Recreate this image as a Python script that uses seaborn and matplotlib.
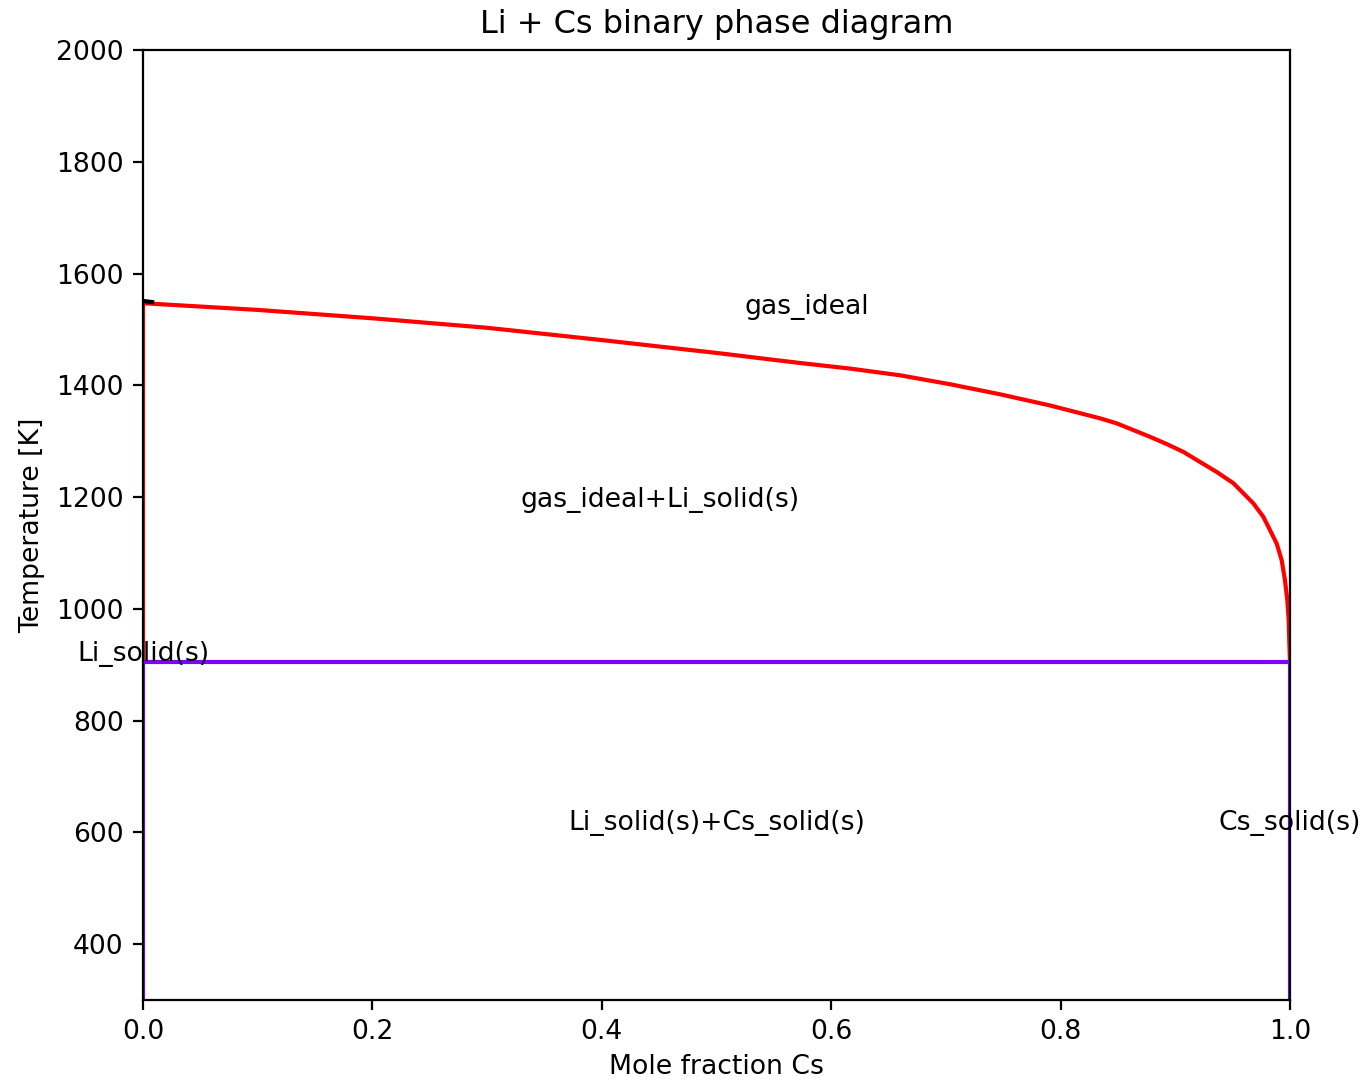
import matplotlib
matplotlib.use("Agg")
import matplotlib.pyplot as plt
import seaborn as sns
import pandas as pd

# Liquidus / gas boundary
x_gas = [0.0, 0.1, 0.2, 0.3, 0.4, 0.5, 0.5728, 0.6164, 0.66, 0.7036, 0.7472,
         0.7908, 0.8344, 0.8489, 0.8634, 0.8779, 0.8925, 0.907, 0.9215,
         0.9361, 0.9506, 0.9593, 0.968, 0.9767, 0.9826, 0.9884, 0.9928,
         0.9956, 0.9977, 0.9989, 0.9994, 1.0]
t_gas = [1547, 1535, 1520, 1503, 1481, 1458, 1440, 1430, 1418, 1402, 1384,
         1364, 1341, 1332, 1320, 1308, 1295, 1281, 1263,
         1245, 1225, 1207, 1189, 1165, 1141, 1117, 1087,
         1052, 1016, 980, 944, 905]

# Eutectic / solid boundaries
t_eut = 905
t_min, t_max = 300, 2000
x_pure = [0.0, 1.0]

# small black two-phase sliver near pure Li
x_small = [0.0, 0.008]
t_small = [1551, 1549]

labels = ["gas_ideal", "gas_ideal+Li_solid(s)", "Li_solid(s)",
          "Li_solid(s)+Cs_solid(s)", "Cs_solid(s)"]
label_x = [0.579, 0.451, 0.0, 0.5, 1.0]
label_t = [1540, 1194, 920, 616, 616]

red = "#ff0000"
violet = "#7f00ff"

plt.rcParams["font.size"] = 9.6

fig = plt.figure(figsize=(6.86, 5.405), dpi=200)
ax = fig.add_axes([0.1042, 0.0749, 0.836, 0.8788])

# red vertical at x=0 from eutectic up to the boundary
sns.lineplot(x=[0.0, 0.0], y=[t_eut, t_gas[0]], color=red, lw=1.5, ax=ax,
             sort=False, estimator=None)
df_gas = pd.DataFrame({"x": x_gas, "T": t_gas})
sns.lineplot(data=df_gas, x="x", y="T", color=red, lw=1.5, ax=ax,
             sort=False, estimator=None)
sns.lineplot(x=x_small, y=t_small, color="black", lw=1.5, ax=ax,
             sort=False, estimator=None)

# eutectic line and solid boundaries
sns.lineplot(x=x_pure, y=[t_eut, t_eut], color=violet, lw=1.5, ax=ax,
             sort=False, estimator=None)
for xp in x_pure:
    sns.lineplot(x=[xp, xp], y=[t_min, t_eut], color=violet, lw=1.5, ax=ax,
                 sort=False, estimator=None)

for lab, lx, lt in zip(labels, label_x, label_t):
    ax.text(lx, lt, lab, ha="center", va="center", fontsize=9.6)

ax.set_xlim(0, 1)
ax.set_ylim(t_min, t_max)
ax.set_xlabel("Mole fraction Cs", labelpad=3)
ax.set_ylabel("Temperature [K]")
ax.set_title("Li + Cs binary phase diagram", fontsize=11.5)

plt.savefig("out.png", dpi=200)
